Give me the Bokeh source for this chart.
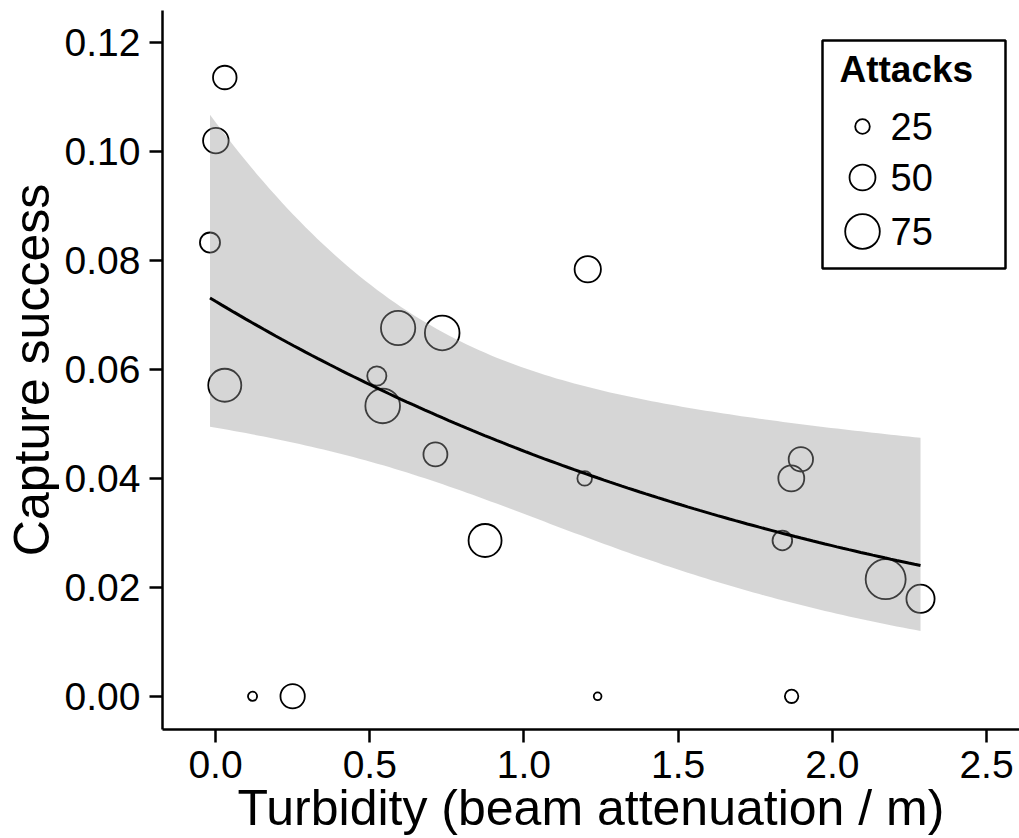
import numpy as np
from bokeh.plotting import figure
from bokeh.models import Range1d, FixedTicker, NumeralTickFormatter, ColumnDataSource
from bokeh.core.properties import value
from bokeh.embed import file_html
from bokeh.resources import INLINE

# ---- data ----
turbidity = [-0.018, 0.001, 0.030, 0.030, 0.523, 0.542, 0.592, 0.735, 0.713, 0.874,
             1.197, 1.207, 1.838, 1.867, 1.898, 2.173, 2.286, 0.120, 0.250, 1.239, 1.868]
capture_success = [0.0833, 0.1020, 0.1136, 0.0571, 0.0588, 0.0533, 0.0676, 0.0667, 0.0444, 0.0286,
                   0.0400, 0.0784, 0.0286, 0.0400, 0.0435, 0.0215, 0.0179, 0.0, 0.0, 0.0, 0.0]
attacks = [36, 49, 44, 70, 34, 75, 74, 75, 45, 70,
           25, 51, 35, 50, 46, 93, 56, 16, 46, 14, 23]
legend_attacks = [25, 50, 75]
x_ticks = [0.0, 0.5, 1.0, 1.5, 2.0, 2.5]
y_ticks = [0.00, 0.02, 0.04, 0.06, 0.08, 0.10, 0.12]

FONT = "Liberation Sans"


def marker_size(n):
    n = np.asarray(n, dtype=float)
    return 2.0 * (2.735 * np.sqrt(n) - 6.37)


# ---- binomial GLM smooth (as geom_smooth(method="glm", family=binomial)) ----
tx = np.array(turbidity)
ty = np.array(capture_success)
tw = np.array(attacks, dtype=float)
X = np.column_stack([np.ones_like(tx), tx])
beta = np.zeros(2)
for _ in range(60):
    eta = X @ beta
    mu = 1.0 / (1.0 + np.exp(-eta))
    w = tw * mu * (1 - mu)
    z = eta + (ty - mu) / (mu * (1 - mu))
    XtW = X.T * w
    beta = np.linalg.solve(XtW @ X, XtW @ z)
eta = X @ beta
mu = 1.0 / (1.0 + np.exp(-eta))
w = tw * mu * (1 - mu)
cov = np.linalg.inv((X.T * w) @ X)

gx = np.linspace(tx.min(), tx.max(), 120)
G = np.column_stack([np.ones_like(gx), gx])
geta = G @ beta
gse = np.sqrt(np.einsum("ij,jk,ik->i", G, cov, G))
inv = lambda e: 1.0 / (1.0 + np.exp(-e))
fit = inv(geta)
upper = inv(geta + 1.959964 * gse)
lower = inv(geta - 1.959964 * gse)

# ---- figure ----
p = figure(width=1019, height=838,
           x_range=Range1d(-0.172, 2.607), y_range=Range1d(-0.0061, 0.1259),
           output_backend="svg", toolbar_location=None,
           min_border_left=0, min_border_right=0, min_border_top=10, min_border_bottom=0)
p.outline_line_color = None
p.background_fill_color = "white"
p.border_fill_color = "white"
p.xgrid.visible = False
p.ygrid.visible = False

# frame pixel ranges for the legend block
p.extra_x_ranges = {"px": Range1d(0, 857)}
p.extra_y_ranges = {"px": Range1d(719, 0)}

for ax in (p.xaxis[0], p.yaxis[0]):
    ax.axis_line_width = 2.5
    ax.axis_line_color = "black"
    ax.major_tick_line_width = 2.5
    ax.major_tick_line_color = "black"
    ax.major_tick_out = 13
    ax.major_tick_in = 0
    ax.minor_tick_line_color = None
    ax.major_label_text_font = FONT
    ax.major_label_text_font_size = "39px"
    ax.major_label_text_color = "black"
    ax.axis_label_text_font = FONT
    ax.axis_label_text_font_size = "50px"
    ax.axis_label_text_font_style = "normal"
    ax.axis_label_text_color = "black"

p.xaxis.ticker = FixedTicker(ticks=x_ticks)
p.xaxis.formatter = NumeralTickFormatter(format="0.0")
p.yaxis.ticker = FixedTicker(ticks=y_ticks)
p.yaxis.formatter = NumeralTickFormatter(format="0.00")
p.xaxis.axis_label = "Turbidity (beam attenuation / m)"
p.yaxis.axis_label = "Capture success"
p.xaxis.major_label_standoff = 8
p.xaxis.axis_label_standoff = -1
p.yaxis.major_label_standoff = 9
p.yaxis.axis_label_standoff = 2

# points
src = ColumnDataSource(dict(x=turbidity, y=capture_success, s=marker_size(attacks)))
p.scatter("x", "y", size="s", source=src, marker="circle",
          fill_color=None, line_color="black", line_width=1.8)

# ribbon + fit line
p.varea(x=gx, y1=lower, y2=upper, fill_color="#999999", fill_alpha=0.4)
p.line(gx, fit, line_color="black", line_width=3)

# legend (drawn in frame pixel space)
p.quad(left=[660], right=[843], top=[30], bottom=[258],
       x_range_name="px", y_range_name="px",
       fill_color="white", line_color="black", line_width=2.5)
p.text(x=[677], y=[59], text=["Attacks"], x_range_name="px", y_range_name="px",
       text_font=value(FONT), text_font_size="37px", text_font_style="bold",
       text_baseline="middle", text_align="left", text_color="black")
rows_y = [116, 167, 221]
p.scatter(x=[700] * 3, y=rows_y, size=marker_size(legend_attacks), marker="circle",
          x_range_name="px", y_range_name="px",
          fill_color=None, line_color="black", line_width=1.8)
p.text(x=[728] * 3, y=rows_y, text=[str(v) for v in legend_attacks],
       x_range_name="px", y_range_name="px",
       text_font=value(FONT), text_font_size="38px",
       text_baseline="middle", text_align="left", text_color="black")

open("out.html", "w").write(file_html(p, INLINE))
